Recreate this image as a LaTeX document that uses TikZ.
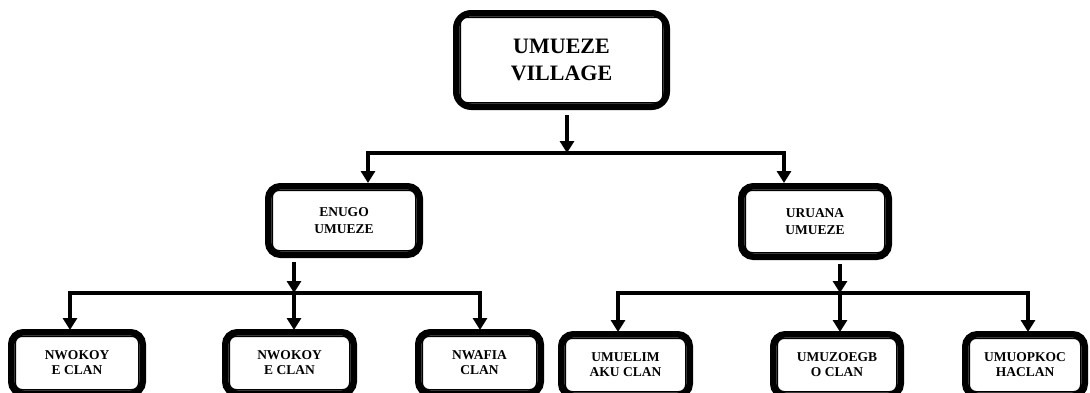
\documentclass[tikz,border=0pt]{standalone}
\usepackage{fontspec}
\setmainfont{Liberation Serif}
\usetikzlibrary{arrows.meta}
\tikzset{
  boxA/.style={draw, line width=6.5pt, rounded corners=12pt, inner sep=0pt, align=center,
    font=\bfseries\fontsize{13.5}{15}\selectfont},
  boxMid/.style={boxA, font=\bfseries\fontsize{13.5}{17}\selectfont},
  boxTop/.style={boxA, rounded corners=15pt, font=\bfseries\fontsize{22}{27}\selectfont},
  innerline/.style={line width=1.5pt, rounded corners=7pt},
  conn/.style={line width=4pt, line join=miter},
  arr/.style={conn, -{Triangle[width=14pt,length=12pt]}}
}
\begin{document}
\begin{tikzpicture}[x=1pt,y=-1pt]
\useasboundingbox (0,0) rectangle (1090,392);
\clip (0,0) rectangle (1090,392);
% boxes
\node[boxTop, minimum width=210.5pt, minimum height=93.5pt] (top) at (561.5,60) {UMUEZE\\VILLAGE};
\node[boxMid, minimum width=151.5pt, minimum height=68.5pt] (enugo) at (344,220.5) {ENUGO\\UMUEZE};
\node[boxMid, minimum width=147.5pt, minimum height=70.5pt] (uruana) at (815,221.5) {URUANA\\UMUEZE};
\node[boxA, minimum width=131.5pt, minimum height=61.5pt] (n1) at (77,363) {NWOKOY\\E CLAN};
\node[boxA, minimum width=128.5pt, minimum height=61.5pt] (n2) at (289.5,363) {NWOKOY\\E CLAN};
\node[boxA, minimum width=122.5pt, minimum height=61.5pt] (n3) at (479.5,363) {NWAFIA\\CLAN};
\node[boxA, minimum width=128.5pt, minimum height=61.5pt] (u1) at (625.5,365) {UMUELIM\\AKU CLAN};
\node[boxA, minimum width=127.5pt, minimum height=61.5pt] (u2) at (837,365) {UMUZOEGB\\O CLAN};
\node[boxA, minimum width=119.5pt, minimum height=61.5pt] (u3) at (1025,365) {UMUOPKOC\\HACLAN};
\foreach \n in {top,enugo,uruana,n1,n2,n3,u1,u2,u3}
  \draw[innerline] ([xshift=7.25pt,yshift=-7.25pt]\n.north west) rectangle ([xshift=-7.25pt,yshift=7.25pt]\n.south east);
% junction coordinates
\coordinate (t0) at (567,115);
\coordinate (j0) at (567,153);
\coordinate (eIn) at (368,183);
\coordinate (rIn) at (784,183);
\coordinate (e0) at (294,262);
\coordinate (j1) at (294,293);
\coordinate (n1In) at (70,330);
\coordinate (n2In) at (294,330);
\coordinate (n3In) at (480,330);
\coordinate (r0) at (840,264);
\coordinate (j2) at (840,293);
\coordinate (u1In) at (618,332);
\coordinate (u2In) at (840,332);
\coordinate (u3In) at (1028,332);
% connectors
\draw[arr] (t0) -- (j0);
\draw[arr] (j0) -| (eIn);
\draw[arr] (j0) -| (rIn);
\draw[arr] (e0) -- (j1);
\draw[arr] (j1) -| (n1In);
\draw[arr] (j1) -- (n2In);
\draw[arr] (j1) -| (n3In);
\draw[arr] (r0) -- (j2);
\draw[arr] (j2) -| (u1In);
\draw[arr] (j2) -- (u2In);
\draw[arr] (j2) -| (u3In);
\end{tikzpicture}
\end{document}
